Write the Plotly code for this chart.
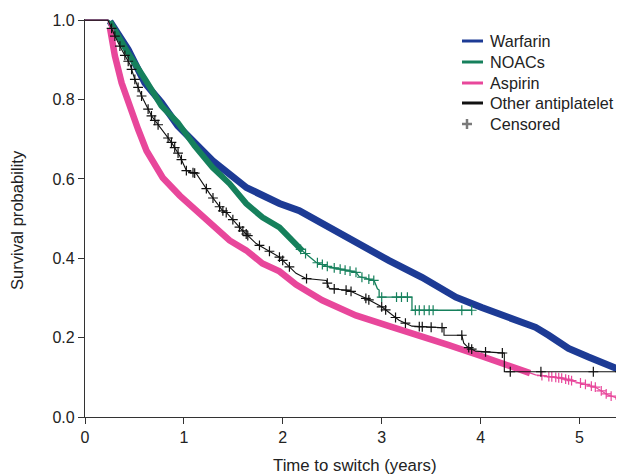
import numpy as np
import plotly.graph_objects as go

# ---- Kaplan-Meier curves (vertices) ----
warfarin_t = [0, 0.232, 0.252, 0.436, 0.605, 0.773, 0.938, 1.109, 1.290, 1.633, 1.966, 2.167,
              2.399, 2.742, 3.075, 3.407, 3.750, 4.012, 4.355, 4.556, 4.688, 4.889, 5.091,
              5.292, 5.415, 5.425, 5.425]
warfarin_s = [1.0, 1.0, 0.997, 0.926, 0.842, 0.792, 0.734, 0.692, 0.646, 0.578, 0.538, 0.520,
              0.487, 0.437, 0.394, 0.352, 0.302, 0.276, 0.244, 0.226, 0.206, 0.173, 0.151,
              0.131, 0.118, 0.118, 0.0]

noacs_t = [0, 0.232, 0.252, 0.433, 0.605, 0.773, 0.938, 1.109, 1.290, 1.462, 1.630, 1.794,
           1.966, 2.134, 2.235, 2.336, 2.470, 2.739, 2.772, 2.923, 2.957, 2.974, 2.974,
           3.306, 3.306, 3.911]
noacs_s = [1.0, 1.0, 0.997, 0.918, 0.852, 0.784, 0.742, 0.683, 0.629, 0.588, 0.538, 0.503,
           0.478, 0.432, 0.411, 0.390, 0.378, 0.365, 0.354, 0.344, 0.323, 0.320, 0.302,
           0.302, 0.269, 0.269]

aspirin_t = [0, 0.232, 0.252, 0.302, 0.370, 0.436, 0.537, 0.622, 0.786, 0.958, 1.126, 1.290,
             1.462, 1.630, 1.794, 1.966, 2.134, 2.399, 2.739, 3.075, 3.407, 3.679, 4.012,
             4.355, 4.556, 4.819, 5.020, 5.161, 5.292, 5.42]
aspirin_s = [1.0, 1.0, 0.981, 0.910, 0.842, 0.792, 0.725, 0.671, 0.603, 0.558, 0.520, 0.485,
             0.445, 0.420, 0.387, 0.367, 0.334, 0.294, 0.256, 0.229, 0.204, 0.181, 0.153,
             0.123, 0.106, 0.098, 0.085, 0.075, 0.055, 0.045]

other_t = [0, 0.232, 0.252, 0.302, 0.370, 0.454, 0.504, 0.572, 0.672, 0.773, 0.874, 0.958,
           1.025, 1.126, 1.260, 1.391, 1.431, 1.593, 1.731, 1.794, 1.966, 2.134, 2.235,
           2.44, 2.47, 2.67, 2.84, 3.004, 3.175, 3.306, 3.579, 3.63, 3.63, 3.81, 3.83,
           3.87, 3.95, 4.24, 4.24, 5.425]
other_s = [1.0, 1.0, 0.989, 0.960, 0.926, 0.889, 0.851, 0.809, 0.759, 0.725, 0.692, 0.658,
           0.621, 0.613, 0.563, 0.520, 0.515, 0.470, 0.437, 0.428, 0.403, 0.362, 0.349,
           0.344, 0.324, 0.319, 0.299, 0.277, 0.244, 0.229, 0.225, 0.225, 0.206, 0.206,
           0.186, 0.176, 0.166, 0.161, 0.114, 0.114]

# portions where censor marks are so dense they form a solid band
warfarin_band_end = 5.41
noacs_band_end = 2.2
aspirin_band_end = 4.5

# individually visible censor times
noacs_cens = [2.18, 2.23, 2.35, 2.40, 2.45, 2.52, 2.58, 2.63, 2.68, 2.74, 2.80, 2.87, 2.92,
              3.00, 3.15, 3.20, 3.26, 3.34, 3.38, 3.43, 3.48, 3.52, 3.81, 3.91]
other_cens = [0.269, 0.302, 0.353, 0.403, 0.437, 0.471, 0.504, 0.537, 0.572, 0.638, 0.672,
              0.706, 0.739, 0.840, 0.874, 0.907, 0.941, 0.975, 1.025, 1.092, 1.109, 1.227,
              1.294, 1.361, 1.394, 1.428, 1.495, 1.562, 1.596, 1.630, 1.646, 1.764, 1.865,
              1.966, 1.999, 2.067, 2.24, 2.45, 2.52, 2.64, 2.69, 2.84, 2.87, 3.00, 3.04,
              3.14, 3.24, 3.38, 3.41, 3.50, 3.61, 3.81, 3.88, 3.91, 4.05, 4.22, 4.30, 4.61,
              5.14, 5.41]
aspirin_cens = [4.62, 4.69, 4.72, 4.76, 4.79, 4.82, 4.86, 4.89, 4.92, 5.01, 5.06, 5.12,
                5.16, 5.22, 5.27, 5.32, 5.41]

legend_names = ["Warfarin", "NOACs", "Aspirin", "Other antiplatelet", "Censored"]

WARF = "#1d3b95"
WARF_END = "#5b7cc4"
NOAC = "#16805c"
ASP = "#e8479b"
OTH = "#111111"
CENS = "#7a7a7a"
colors = [WARF, NOAC, ASP, OTH, CENS]

fig = go.Figure()


def s_at(t, s, q):
    t = np.asarray(t, float)
    s = np.asarray(s, float)
    out = []
    for v in q:
        idx = np.searchsorted(t, v, side="right") - 1
        idx = min(max(idx, 0), len(t) - 2)
        t0, t1, s0, s1 = t[idx], t[idx + 1], s[idx], s[idx + 1]
        out.append(s0 if t1 == t0 else s0 + (s1 - s0) * (v - t0) / (t1 - t0))
    return out


def band(t, s, end):
    t = np.asarray(t, float)
    s = np.asarray(s, float)
    m = (t <= end) & (t >= 0.24)
    tt = list(t[m]) + [end]
    ss = list(s[m]) + s_at(t, s, [end])
    return tt, ss


def add_curve(t, s, color, width, band_end=None, band_w=6.5, cens=None):
    if band_end is not None:
        bt, bs = band(t, s, band_end)
        fig.add_trace(go.Scatter(x=bt, y=bs, mode="lines", showlegend=False,
                                 line=dict(color=color, width=band_w), hoverinfo="skip"))
    fig.add_trace(go.Scatter(x=t, y=s, mode="lines", showlegend=False,
                             line=dict(color=color, width=width), hoverinfo="skip"))
    if cens:
        fig.add_trace(go.Scatter(x=cens, y=s_at(t, s, cens), mode="markers", showlegend=False,
                                 marker=dict(symbol="cross-thin", size=7, color=color,
                                             line=dict(color=color, width=1.2)),
                                 hoverinfo="skip", cliponaxis=False))


add_curve(warfarin_t, warfarin_s, WARF, 1.3, warfarin_band_end, 7)
# final drop of the Warfarin curve (lighter, as in the original)
fig.add_trace(go.Scatter(x=warfarin_t[-2:], y=warfarin_s[-2:], mode="lines", showlegend=False,
                         line=dict(color=WARF_END, width=1.5), hoverinfo="skip"))
add_curve(noacs_t, noacs_s, NOAC, 1.3, noacs_band_end, 6, noacs_cens)
add_curve(aspirin_t, aspirin_s, ASP, 1.3, aspirin_band_end, 6.5, aspirin_cens)
add_curve(other_t, other_s, OTH, 1.1, None, 0, other_cens)

# ---- geometry (page has an 8px body margin, so the figure is offset by 8px) ----
OFF = 8
W, H = 624 - OFF, 475 - OFF
L, R, T, B = 85 - OFF, 0, 19 - OFF, 475 - 417
pw, ph = W - L - R, H - T - B


def px(x):
    return (x - OFF - L) / pw


def py(y):
    return (H - B - (y - OFF)) / ph


# ---- legend drawn as text + line samples ----
annotations = []
shapes = []
row_y = [41, 62, 83, 103, 124]
for i, (name, col) in enumerate(zip(legend_names, colors)):
    annotations.append(dict(x=px(488), y=py(row_y[i]), xref="paper", yref="paper",
                            text=name, showarrow=False, xanchor="left", yanchor="middle",
                            font=dict(size=16.2, color="#222")))
    if i < 4:
        shapes.append(dict(type="line", xref="paper", yref="paper", x0=px(462), x1=px(483),
                           y0=py(row_y[i]), y1=py(row_y[i]), line=dict(color=col, width=3)))
    else:
        shapes.append(dict(type="line", xref="paper", yref="paper", x0=px(462), x1=px(472),
                           y0=py(row_y[i]), y1=py(row_y[i]), line=dict(color=col, width=2.5)))
        shapes.append(dict(type="line", xref="paper", yref="paper", x0=px(467), x1=px(467),
                           y0=py(row_y[i] - 5), y1=py(row_y[i] + 5),
                           line=dict(color=col, width=2.5)))

# axis titles
annotations.append(dict(x=px(355), y=py(465), xref="paper", yref="paper",
                        text="Time to switch (years)", showarrow=False,
                        xanchor="center", yanchor="middle", font=dict(size=16.8, color="#222")))
annotations.append(dict(x=px(17), y=py(220), xref="paper", yref="paper",
                        text="Survival probability", showarrow=False, textangle=-90,
                        xanchor="center", yanchor="middle", font=dict(size=16.6, color="#222")))

font = dict(family="Arial, Liberation Sans, sans-serif", size=16, color="#222")
fig.update_layout(
    width=W, height=H,
    margin=dict(l=L, r=R, t=T, b=B, autoexpand=False),
    plot_bgcolor="white", paper_bgcolor="white",
    font=font, showlegend=False,
    annotations=annotations, shapes=shapes,
    xaxis=dict(range=[0, 5.45], tickvals=[0, 1, 2, 3, 4, 5], showline=True,
               linecolor="#333", linewidth=1.2, ticks="outside", ticklen=6,
               tickcolor="#333", showgrid=False, zeroline=False, automargin=False,
               tickfont=dict(size=16)),
    yaxis=dict(range=[0, 1.003], tickvals=[0, 0.2, 0.4, 0.6, 0.8, 1.0], tickformat=".1f",
               showline=True, linecolor="#333", linewidth=1.2, ticks="outside", ticklen=6,
               tickcolor="#333", showgrid=False, zeroline=False, automargin=False,
               tickfont=dict(size=16)),
)

fig.write_html("out.html")
